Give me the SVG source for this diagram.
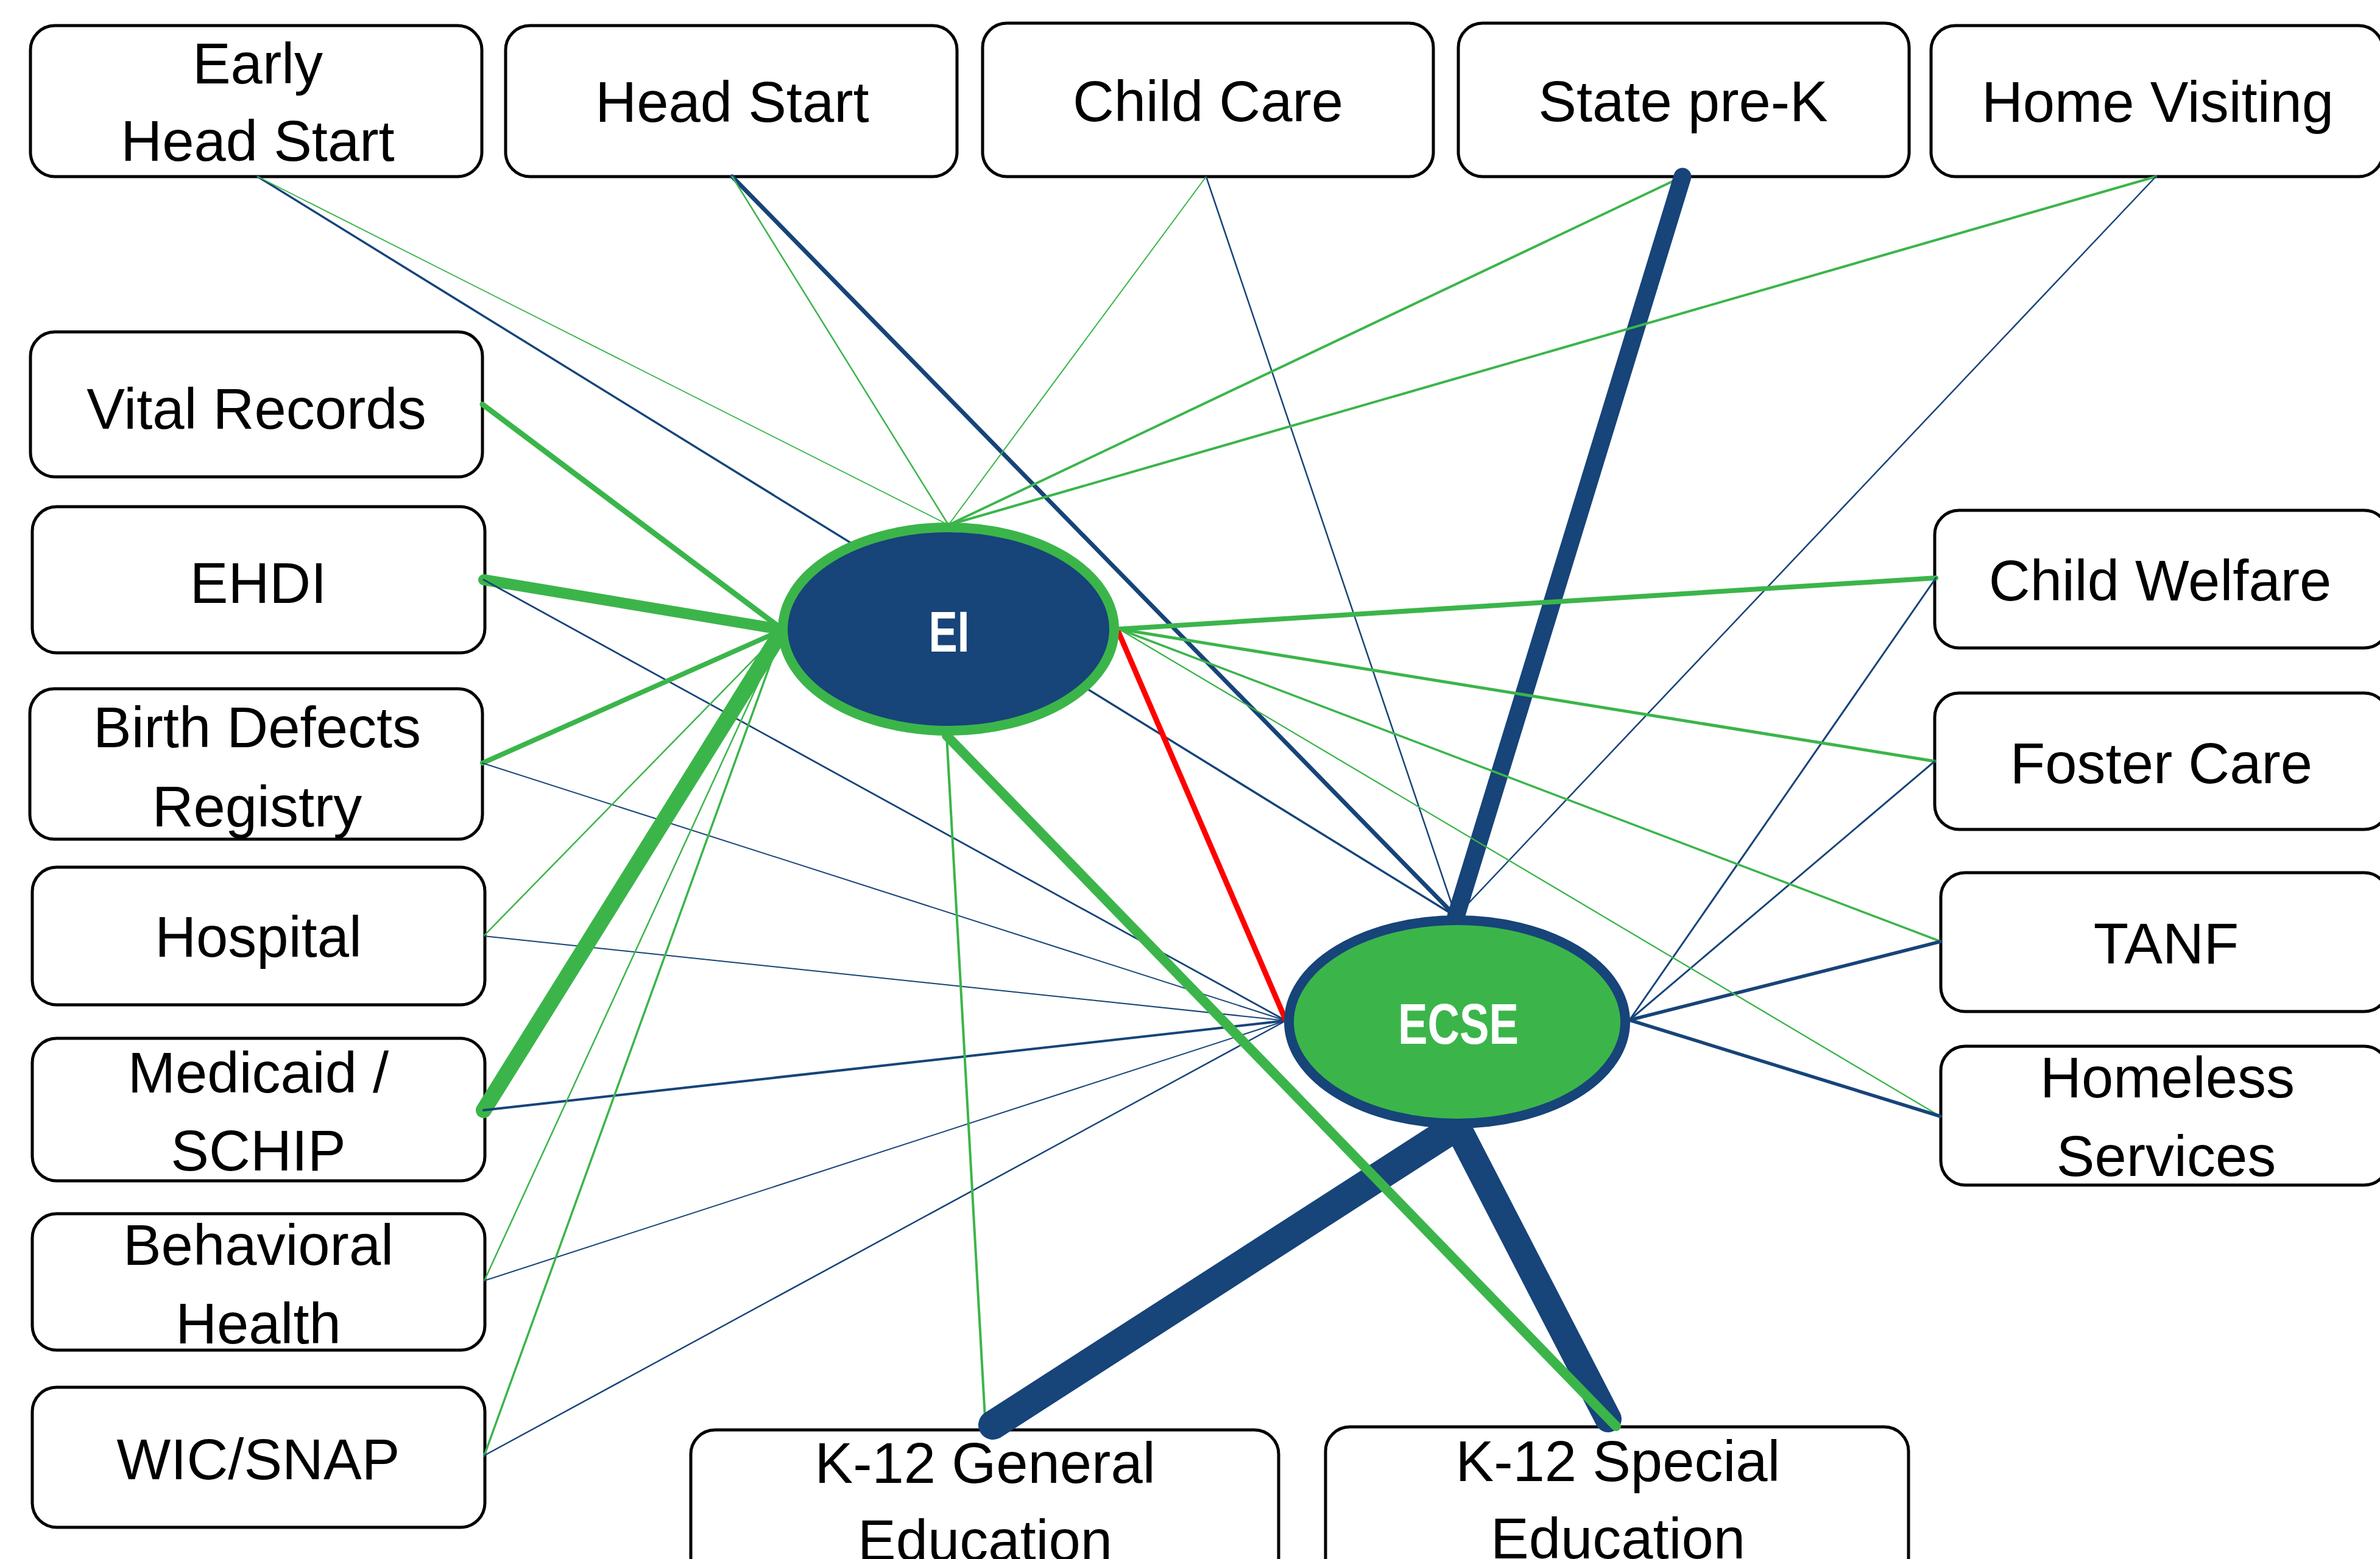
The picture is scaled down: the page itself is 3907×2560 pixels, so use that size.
<svg xmlns="http://www.w3.org/2000/svg" width="3907" height="2560" viewBox="0 0 3907 2560">
<style>
.box{fill:#fff;stroke:#000;stroke-width:5}
.t{font-family:"Liberation Sans",Arial,sans-serif;font-size:94px;fill:#000;text-anchor:middle}
.hub{font-family:"Liberation Sans",Arial,sans-serif;font-size:94px;font-weight:bold;fill:#fff;text-anchor:middle}
.g{stroke:#3BB54A;stroke-linecap:round;fill:none}
.b{stroke:#174479;stroke-linecap:round;fill:none}
.r{stroke:#FF0000;stroke-linecap:round;fill:none}
</style>
<rect width="3907" height="2560" fill="#fff"/>
<g id="nodes-boxes">
<g id="early-head-start"><rect class="box" x="50" y="42" width="741" height="248" rx="40"/><text class="t" x="423" y="137">Early</text><text class="t" x="423" y="264">Head Start</text></g>
<g id="head-start"><rect class="box" x="830" y="42" width="741" height="248" rx="40"/><text class="t" x="1202" y="200">Head Start</text></g>
<g id="child-care"><rect class="box" x="1613" y="38" width="740" height="252" rx="40"/><text class="t" x="1983" y="199">Child Care</text></g>
<g id="state-pre-k"><rect class="box" x="2394" y="38" width="740" height="252" rx="40"/><text class="t" x="2763" y="199">State pre-K</text></g>
<g id="home-visiting"><rect class="box" x="3170" y="42" width="742" height="248" rx="40"/><text class="t" x="3542" y="200">Home Visiting</text></g>
<g id="vital-records"><rect class="box" x="50" y="545" width="742" height="238" rx="40"/><text class="t" x="421" y="704">Vital Records</text></g>
<g id="ehdi"><rect class="box" x="53" y="832" width="743" height="240" rx="40"/><text class="t" x="424" y="990">EHDI</text></g>
<g id="birth-defects"><rect class="box" x="49" y="1131" width="743" height="247" rx="40"/><text class="t" x="422" y="1227">Birth Defects</text><text class="t" x="422" y="1357">Registry</text></g>
<g id="hospital"><rect class="box" x="53" y="1424" width="743" height="226" rx="40"/><text class="t" x="424" y="1571">Hospital</text></g>
<g id="medicaid"><rect class="box" x="53" y="1705" width="743" height="234" rx="40"/><text class="t" x="424" y="1794">Medicaid /</text><text class="t" x="424" y="1922">SCHIP</text></g>
<g id="behavioral-health"><rect class="box" x="53" y="1993" width="743" height="224" rx="40"/><text class="t" x="424" y="2077">Behavioral</text><text class="t" x="424" y="2206">Health</text></g>
<g id="wic-snap"><rect class="box" x="53" y="2278" width="743" height="230" rx="40"/><text class="t" x="424" y="2429">WIC/SNAP</text></g>
<g id="child-welfare"><rect class="box" x="3176" y="838" width="745" height="226" rx="40"/><text class="t" x="3546" y="986">Child Welfare</text></g>
<g id="foster-care"><rect class="box" x="3176" y="1138" width="745" height="224" rx="40"/><text class="t" x="3548" y="1286">Foster Care</text></g>
<g id="tanf"><rect class="box" x="3186" y="1433" width="735" height="228" rx="40"/><text class="t" x="3556" y="1582">TANF</text></g>
<g id="homeless-services"><rect class="box" x="3186" y="1718" width="735" height="228" rx="40"/><text class="t" x="3558" y="1802">Homeless</text><text class="t" x="3556" y="1931">Services</text></g>
<g id="k12-general"><rect class="box" x="1134" y="2348" width="965" height="260" rx="40"/><text class="t" x="1617" y="2435">K-12 General</text><text class="t" x="1617" y="2562">Education</text></g>
<g id="k12-special"><rect class="box" x="2176" y="2343" width="957" height="265" rx="40"/><text class="t" x="2656" y="2432">K-12 Special</text><text class="t" x="2656" y="2559">Education</text></g>
</g>
<g id="connectors">
<line class="b" x1="423" y1="290" x2="2390" y2="1505" stroke-width="3.5"/>
<line class="g" x1="423" y1="290" x2="1557" y2="862" stroke-width="1.8"/>
<line class="b" x1="1202" y1="290" x2="2390" y2="1505" stroke-width="7"/>
<line class="g" x1="1202" y1="290" x2="1557" y2="862" stroke-width="2.5"/>
<line class="g" x1="1980" y1="290" x2="1557" y2="862" stroke-width="2"/>
<line class="b" x1="1980" y1="290" x2="2390" y2="1505" stroke-width="2.5"/>
<line class="g" x1="2762" y1="290" x2="1557" y2="862" stroke-width="4"/>
<line class="b" x1="2762" y1="290" x2="2390" y2="1505" stroke-width="29"/>
<line class="g" x1="3539" y1="290" x2="1557" y2="862" stroke-width="4"/>
<line class="b" x1="3539" y1="290" x2="2390" y2="1505" stroke-width="2.5"/>
<line class="g" x1="792" y1="664" x2="1285" y2="1034" stroke-width="9"/>
<line class="g" x1="794" y1="952" x2="1285" y2="1034" stroke-width="18"/>
<line class="b" x1="794" y1="952" x2="2111" y2="1676" stroke-width="2.8"/>
<line class="g" x1="792" y1="1253" x2="1285" y2="1034" stroke-width="8"/>
<line class="b" x1="792" y1="1253" x2="2111" y2="1676" stroke-width="2"/>
<line class="g" x1="794" y1="1537" x2="1285" y2="1034" stroke-width="2.5"/>
<line class="b" x1="794" y1="1537" x2="2111" y2="1676" stroke-width="2"/>
<line class="g" x1="794" y1="1823" x2="1285" y2="1034" stroke-width="26"/>
<line class="b" x1="794" y1="1823" x2="2111" y2="1676" stroke-width="4"/>
<line class="g" x1="795" y1="2103" x2="1285" y2="1034" stroke-width="2.5"/>
<line class="b" x1="795" y1="2103" x2="2111" y2="1676" stroke-width="2"/>
<line class="g" x1="795" y1="2390" x2="1285" y2="1034" stroke-width="3.5"/>
<line class="b" x1="795" y1="2390" x2="2111" y2="1676" stroke-width="2.5"/>
<line class="g" x1="3178" y1="949" x2="1837" y2="1033" stroke-width="8"/>
<line class="b" x1="3178" y1="949" x2="2675" y2="1675" stroke-width="3"/>
<line class="g" x1="3176" y1="1250" x2="1837" y2="1033" stroke-width="5"/>
<line class="b" x1="3176" y1="1250" x2="2675" y2="1675" stroke-width="3"/>
<line class="g" x1="3186" y1="1546" x2="1837" y2="1033" stroke-width="3.5"/>
<line class="b" x1="3186" y1="1546" x2="2675" y2="1675" stroke-width="5.5"/>
<line class="g" x1="3185" y1="1833" x2="1837" y2="1033" stroke-width="2.3"/>
<line class="b" x1="3185" y1="1833" x2="2675" y2="1675" stroke-width="5.5"/>
<line class="g" x1="1618" y1="2346" x2="1554" y2="1208" stroke-width="4"/>
<line class="b" x1="1630" y1="2340" x2="2392" y2="1849" stroke-width="48"/>
<line class="b" x1="2640" y1="2330" x2="2392" y2="1849" stroke-width="44"/>
<line class="g" x1="2653" y1="2342" x2="1554" y2="1208" stroke-width="16"/>
<line class="r" x1="1837" y1="1040" x2="2111" y2="1676" stroke-width="9"/>
</g>
<g id="ei">
<ellipse cx="1557" cy="1033" rx="272" ry="167" fill="#174479" stroke="#3BB54A" stroke-width="16"/>
<text class="hub" x="1558" y="1070" textLength="67" lengthAdjust="spacingAndGlyphs">EI</text>
</g>
<g id="ecse">
<ellipse cx="2392" cy="1678" rx="276" ry="167" fill="#3BB54A" stroke="#174479" stroke-width="16"/>
<text class="hub" x="2394" y="1714" textLength="198" lengthAdjust="spacingAndGlyphs">ECSE</text>
</g>
</svg>
